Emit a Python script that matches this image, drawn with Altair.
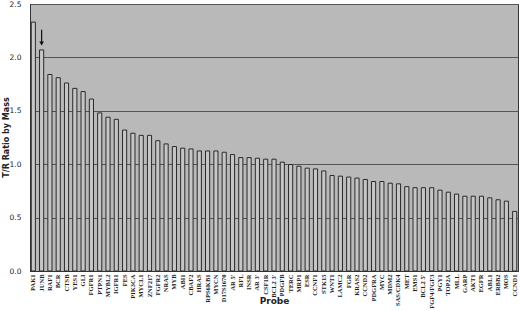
import altair as alt
import pandas as pd

probes = ["PAK1", "JUNB", "RAF1", "BCR", "CTSB", "YES1", "GLI", "FGFR1", "PTPN1", "MYBL2",
          "IGFR1", "FES", "PIK3CA", "MYCL1", "ZNF217", "FGFR2", "NRAS", "MYB", "ABI1", "CBAF2",
          "HRAS", "RPS6KB1", "MYCN", "D17S1670", "AR 5'", "RFL", "INSR", "AR 3'", "CSF1R", "BCL2 3'",
          "PDGFB", "TERC", "MRP1", "ESR", "CCNF1", "STK15", "WNT1", "LAMC2", "FGR", "KRAS2",
          "CCND2", "PDGFRA", "MYC", "MDM2", "SAS/CDK4", "MET", "EMS1", "BCL2 5'", "FGF4/FGF3", "PGY1",
          "TOP2A", "MLL", "GARP", "AKT1", "EGFR", "ABL1", "ERBB2", "MOS", "CCND1"]
ratios = [2.33, 2.07, 1.84, 1.81, 1.76, 1.71, 1.68, 1.61, 1.48, 1.44,
          1.42, 1.32, 1.29, 1.27, 1.27, 1.22, 1.19, 1.165, 1.15, 1.143,
          1.124, 1.124, 1.124, 1.112, 1.09, 1.062, 1.062, 1.056, 1.047, 1.047,
          1.019, 0.997, 0.981, 0.963, 0.956, 0.937, 0.894, 0.888, 0.88, 0.87,
          0.857, 0.838, 0.838, 0.822, 0.816, 0.79, 0.78, 0.78, 0.78, 0.757,
          0.738, 0.72, 0.70, 0.70, 0.70, 0.685, 0.667, 0.654, 0.558]

arrow_probe = ["JUNB"]
arrow_top = [2.26]
arrow_tip = [2.13]

df = pd.DataFrame({"Probe": probes, "Ratio": ratios})
arrow_df = pd.DataFrame({"Probe": arrow_probe, "top": arrow_top, "tip": arrow_tip})

x_enc = alt.X("Probe:N", sort=probes,
              scale=alt.Scale(paddingInner=0.5, paddingOuter=0.15),
              axis=alt.Axis(title="Probe", labelAngle=270, labelAlign="right", labelBaseline="middle",
                            labelFont="Liberation Serif", labelFontSize=6.5, labelFontWeight="bold",
                            labelColor="#222", labelPadding=3, ticks=False, domain=True,
                            domainColor="#333", labelOverlap=False,
                            titleFont="DejaVu Sans", titleFontSize=9, titleFontWeight="bold",
                            titleColor="#222", titleX=244, titleY=29, titleBaseline="middle",
                            titleAlign="center"))
y_scale = alt.Scale(domain=[0, 2.5], nice=False)

bars = alt.Chart(df).mark_bar(fill="#c6c6c6", stroke="#2a2a2a", strokeWidth=1).encode(
    x=x_enc,
    y=alt.Y("Ratio:Q", scale=y_scale,
            axis=alt.Axis(title="T/R Ratio by Mass", values=[0, 0.5, 1.0, 1.5, 2.0, 2.5], format=".1f",
                          grid=True, gridColor="#555", gridWidth=1, ticks=False, domainColor="#333",
                          labelFont="DejaVu Sans", labelFontSize=7.5, labelColor="#222", labelPadding=9,
                          titleFont="DejaVu Sans", titleFontSize=8, titleFontWeight="bold",
                          titleColor="#222", titleX=-24, titleY=133, titleAngle=270,
                          titleAlign="center", titleBaseline="middle"))
)

shaft = alt.Chart(arrow_df).mark_rule(color="#111", strokeWidth=1.2).encode(
    x=alt.X("Probe:N", sort=probes), y=alt.Y("top:Q", scale=y_scale), y2="tip:Q")
head = alt.Chart(arrow_df).mark_point(shape="triangle-down", filled=True, color="#111", size=22, opacity=1).encode(
    x=alt.X("Probe:N", sort=probes), y=alt.Y("tip:Q", scale=y_scale))

chart = alt.layer(bars, shaft, head).properties(
    width=488, height=267,
    autosize=alt.AutoSizeParams(type="none"),
    padding={"left": 30, "top": 4, "right": 2, "bottom": 40},
    background="white",
).configure_view(fill="#b9b9b9", stroke="#333", strokeWidth=1)

chart.save("out.html", embed_options={"renderer": "svg", "actions": False})
